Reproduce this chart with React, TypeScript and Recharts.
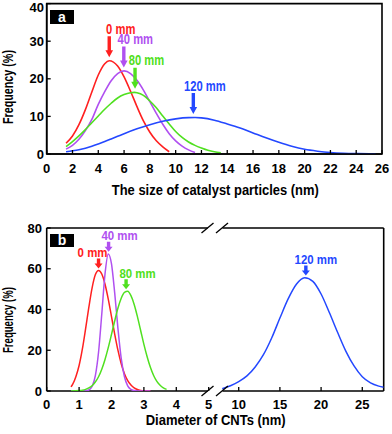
import React from 'react';
import { LineChart, Line, XAxis, YAxis, ReferenceArea, ReferenceLine, ReferenceDot } from 'recharts';

// ---------- Panel a: size of catalyst particles (nm) vs frequency (%) ----------
const catalyst0mm: [number, number][] = [
  [1.5, 2.85], [2.0, 4.8], [2.5, 7.8], [3.0, 11.8], [3.5, 16.5], [4.0, 21.0], [4.5, 24.0], [4.85, 24.8],
  [5.5, 23.4], [6.0, 20.5], [6.5, 16.7], [7.0, 12.6], [7.5, 8.8], [8.0, 5.8], [8.5, 3.5], [9.0, 1.9], [9.5, 0.6],
];
const catalyst40mm: [number, number][] = [
  [1.5, 1.3], [2.0, 2.3], [2.5, 3.9], [3.0, 6.2], [3.5, 9.2], [4.0, 13.2], [4.5, 16.6], [5.0, 19.5], [5.5, 21.4],
  [6.0, 22.1], [6.5, 21.4], [7.0, 19.6], [7.5, 17.0], [8.0, 13.9], [8.5, 10.8], [9.0, 7.9], [9.5, 5.4],
  [10.0, 3.5], [10.5, 2.1], [11.0, 1.1], [11.5, 0.4],
];
const catalyst80mm: [number, number][] = [
  [1.5, 1.95], [2.0, 3.3], [2.5, 4.8], [3.0, 6.5], [3.5, 8.3], [4.0, 10.1], [4.5, 11.9], [5.0, 13.5], [5.5, 14.9],
  [6.0, 15.8], [6.5, 16.3], [6.8, 16.4], [7.0, 16.3], [7.5, 15.6], [8.0, 14.1], [8.5, 12.3], [9.0, 10.1], [9.5, 8.0],
  [10.0, 6.0], [10.5, 4.4], [11.0, 3.2], [11.5, 2.3], [12.0, 1.6], [12.5, 1.0], [13.0, 0.6], [13.5, 0.35],
];
const catalyst120mm: [number, number][] = [
  [1.5, 0.6], [2.0, 0.85], [2.5, 1.15], [3.0, 1.55], [3.5, 2.05], [4.0, 2.65], [4.5, 3.3], [5.0, 4.0], [5.5, 4.7],
  [6.0, 5.4], [7.0, 6.7], [8.0, 7.8], [9.0, 8.7], [10.0, 9.35], [11.0, 9.68], [11.5, 9.7], [12.0, 9.6], [13.0, 9.0],
  [14.0, 8.0], [15.0, 6.9], [16.0, 5.6], [17.0, 4.3], [18.0, 3.1], [19.0, 2.05], [20.0, 1.25], [21.0, 0.75],
  [22.0, 0.4], [23.0, 0.2], [24.0, 0.1], [25.0, 0.05], [25.5, 0.03],
];
const aTicksX = [0, 2, 4, 6, 8, 10, 12, 14, 16, 18, 20, 22, 24, 26];
const aTicksY = [0, 10, 20, 30, 40];
const aPeaks: [number, number][] = [[4.85, 24.8], [5.98, 22.1], [6.85, 16.4], [11.37, 9.7]];

// ---------- Panel b: diameter of CNTs (nm) vs frequency (%) ----------
const cnt0mm: [number, number][] = [
  [0.75, 2.0], [0.8, 3.2], [0.9, 7.0], [1.0, 12.5], [1.1, 20.5], [1.2, 30.5], [1.3, 41.0], [1.4, 50.5], [1.5, 57.0],
  [1.6, 59.2], [1.7, 57.4], [1.8, 52.4], [1.9, 45.1], [2.0, 36.5], [2.1, 27.8], [2.2, 19.9], [2.3, 13.4], [2.4, 8.5],
  [2.5, 5.1], [2.6, 2.9], [2.7, 1.5], [2.8, 0.7], [2.9, 0.3], [3.0, 0.1], [3.2, 0],
];
const cnt40mm: [number, number][] = [
  [0.75, 0], [1.0, 0], [1.2, 0.1], [1.3, 0.5], [1.4, 2.2], [1.5, 7.4], [1.6, 19.0], [1.7, 37.8], [1.8, 57.5],
  [1.9, 67.3], [2.0, 62.4], [2.1, 47.9], [2.2, 30.5], [2.3, 16.0], [2.4, 7.0], [2.5, 2.5], [2.6, 0.8], [2.7, 0.2],
  [2.8, 0], [3.2, 0],
];
const cnt80mm: [number, number][] = [
  [0.75, 0], [1.0, 0.2], [1.1, 0.4], [1.2, 0.8], [1.3, 1.5], [1.4, 2.6], [1.5, 4.4], [1.6, 7.0], [1.7, 10.7],
  [1.8, 15.5], [1.9, 21.3], [2.0, 27.8], [2.1, 34.5], [2.2, 40.7], [2.3, 45.5], [2.4, 48.4], [2.5, 48.9], [2.6, 46.8],
  [2.7, 42.5], [2.8, 36.5], [2.9, 29.7], [3.0, 22.9], [3.1, 16.8], [3.2, 11.6], [3.3, 7.6], [3.4, 4.7], [3.5, 2.8],
  [3.6, 1.5], [3.7, 0.8],
];
const cnt120mm: [number, number][] = [
  [8, 1.1], [9, 2.6], [10, 4.6], [11, 7.4], [12, 11.8], [13, 17.8], [14, 26.0], [15, 35.8], [16, 45.2], [17, 52.4],
  [18, 55.6], [19, 53.8], [20, 47.6], [21, 38.5], [22, 28.8], [23, 19.6], [24, 12.3], [25, 7.0], [26, 4.0], [27, 2.4],
  [27.6, 1.8],
];
const bTicksXLeft = [0, 1, 2, 3, 4, 5];
const bTicksXRight = [10, 15, 20, 25];
const bTicksY = [0, 20, 40, 60, 80];
const bPeaks: [number, number][] = [[1.6, 59.2], [1.91, 67.4], [2.45, 49.0], [18.15, 55.7]];

const seriesNames = ['0 mm', '40 mm', '80 mm', '120 mm'];
const colors = ['#ff2020', '#b050f0', '#50e020', '#2448ff'];
const bLabelDx = [-6, 11, 11.5, 10];

const toPts = (arr: [number, number][]) => arr.map(([x, y]) => ({ x, y }));

const FONT = "'Liberation Sans', Arial, Helvetica, sans-serif";
const AW: Record<string, number> = { '0': 556, '1': 556, '2': 556, '4': 556, '8': 556, ' ': 278, m: 889 };
const boldWidth = (s: string, size: number) => (s.split('').reduce((a, c) => a + (AW[c] ?? 556), 0) / 1000) * size;

const tickStyle = { fontSize: 13, fontWeight: 700, fill: '#000', fontFamily: FONT };
const axisLineStyle = { stroke: '#000', strokeWidth: 1.6 };
const tickLineStyle = { stroke: '#000', strokeWidth: 1.3 };

// y tick label that keeps the top label inside the picture
const YTick = (props: any) => {
  const { x, y, payload } = props;
  const yy = Math.max(y, 7.5);
  return (
    <text x={x} y={yy} dy="0.36em" textAnchor="end" fontSize={13} fontWeight={700} fill="#000" fontFamily={FONT}>
      {payload.value}
    </text>
  );
};

function makeArrow(color: string, label: string, big: boolean, dx: number) {
  return (props: any) => {
    const { cx, cy } = props;
    if (cx == null || cy == null) return <g />;
    const gap = big ? 3.5 : 2;
    const head = big ? 7 : 5;
    const shaft = big ? 14 : 5;
    const hw = big ? 3.8 : 4;
    const sw = 1.7;
    const tip = cy - gap;
    const hb = tip - head;
    const top = hb - shaft;
    const fs = big ? 14 : 13;
    const ratio = big ? 0.8 : 0.88;
    const baseline = big ? top - 2.5 : top - 1.5;
    const d = `M ${cx - sw} ${top} L ${cx + sw} ${top} L ${cx + sw} ${hb} L ${cx + hw} ${hb} L ${cx} ${tip} L ${cx - hw} ${hb} L ${cx - sw} ${hb} Z`;
    return (
      <g>
        <path d={d} fill={color} stroke="none" />
        <text
          x={cx + dx}
          y={baseline}
          textAnchor="middle"
          fill={color}
          fontSize={fs}
          fontWeight={700}
          fontFamily={FONT}
          textLength={boldWidth(label, fs) * ratio}
          lengthAdjust="spacingAndGlyphs"
        >
          {label}
        </text>
      </g>
    );
  };
}

const aSeries = [catalyst0mm, catalyst40mm, catalyst80mm, catalyst120mm];
const bLeftSeries = [cnt0mm, cnt40mm, cnt80mm];

export default function App() {
  return (
    <div style={{ position: 'absolute', left: 0, top: 0, width: 392, height: 434, background: '#fff', overflow: 'hidden' }}>
      {/* Panel a */}
      <div style={{ position: 'absolute', left: 0, top: 0 }}>
        <LineChart width={392} height={217} margin={{ top: 3.6, right: 10, bottom: 33, left: 0 }}>
          <XAxis
            type="number"
            dataKey="x"
            domain={[0, 26]}
            ticks={aTicksX}
            interval={0}
            height={30}
            tickSize={-4}
            tickMargin={14}
            axisLine={axisLineStyle}
            tickLine={tickLineStyle}
            tick={tickStyle}
            allowDataOverflow
          />
          <YAxis
            type="number"
            domain={[0, 40]}
            ticks={aTicksY}
            interval={0}
            width={46.7}
            tickSize={-4}
            tickMargin={6.7}
            axisLine={axisLineStyle}
            tickLine={tickLineStyle}
            tick={<YTick />}
            allowDataOverflow
          />
          <ReferenceArea x1={0} x2={26} y1={0} y2={40} fill="none" fillOpacity={0} stroke="#000" strokeWidth={1.6} />
          {aSeries.map((s, i) => (
            <Line
              key={seriesNames[i]}
              data={toPts(s)}
              dataKey="y"
              type="monotone"
              dot={false}
              stroke={colors[i]}
              strokeWidth={1.6}
              isAnimationActive={false}
            />
          ))}
          {aPeaks.map(([x, y], i) => (
            <ReferenceDot key={'a' + i} x={x} y={y} r={0} ifOverflow="visible" shape={makeArrow(colors[i], seriesNames[i], true, 11.5)} />
          ))}
        </LineChart>
      </div>

      {/* Panel b - left part (0-5 nm) */}
      <div style={{ position: 'absolute', left: 0, top: 217 }}>
        <LineChart width={392} height={217} margin={{ top: 11, right: 183.3, bottom: 13, left: 0 }}>
          <XAxis
            type="number"
            dataKey="x"
            domain={[0, 5]}
            ticks={bTicksXLeft}
            interval={0}
            height={30}
            tickSize={-4}
            tickMargin={12.5}
            axisLine={false}
            tickLine={tickLineStyle}
            tick={tickStyle}
            allowDataOverflow
          />
          <YAxis
            type="number"
            domain={[0, 80]}
            ticks={bTicksY}
            interval={0}
            width={46.7}
            tickSize={-4}
            tickMargin={8.7}
            axisLine={axisLineStyle}
            tickLine={tickLineStyle}
            tick={tickStyle}
            allowDataOverflow
          />
          <ReferenceLine segment={[{ x: 0, y: 0 }, { x: 4.97, y: 0 }]} stroke="#000" strokeWidth={1.6} ifOverflow="visible" />
          <ReferenceLine segment={[{ x: 0, y: 80 }, { x: 4.97, y: 80 }]} stroke="#000" strokeWidth={1.6} ifOverflow="visible" />
          {bLeftSeries.map((s, i) => (
            <Line
              key={seriesNames[i]}
              data={toPts(s)}
              dataKey="y"
              type="monotone"
              dot={false}
              stroke={colors[i]}
              strokeWidth={1.5}
              isAnimationActive={false}
            />
          ))}
          {bPeaks.slice(0, 3).map(([x, y], i) => (
            <ReferenceDot key={'b' + i} x={x} y={y} r={0} ifOverflow="visible" shape={makeArrow(colors[i], seriesNames[i], false, bLabelDx[i])} />
          ))}
        </LineChart>
      </div>

      {/* Panel b - right part (after axis break) */}
      <div style={{ position: 'absolute', left: 0, top: 217 }}>
        <LineChart width={392} height={217} margin={{ top: 11, right: 8.3, bottom: 13, left: 221 }}>
          <XAxis
            type="number"
            dataKey="x"
            domain={[7.85, 27.6]}
            ticks={bTicksXRight}
            interval={0}
            height={30}
            tickSize={-4}
            tickMargin={12.5}
            axisLine={false}
            tickLine={tickLineStyle}
            tick={tickStyle}
            allowDataOverflow
          />
          <YAxis type="number" domain={[0, 80]} hide allowDataOverflow />
          <ReferenceLine segment={[{ x: 8.03, y: 0 }, { x: 27.6, y: 0 }]} stroke="#000" strokeWidth={1.6} ifOverflow="visible" />
          <ReferenceLine segment={[{ x: 8.03, y: 80 }, { x: 27.6, y: 80 }]} stroke="#000" strokeWidth={1.6} ifOverflow="visible" />
          <ReferenceLine segment={[{ x: 27.6, y: 0 }, { x: 27.6, y: 80 }]} stroke="#000" strokeWidth={1.6} ifOverflow="visible" />
          <Line
            data={toPts(cnt120mm)}
            dataKey="y"
            type="monotone"
            dot={false}
            stroke={colors[3]}
            strokeWidth={1.5}
            isAnimationActive={false}
          />
          <ReferenceDot x={bPeaks[3][0]} y={bPeaks[3][1]} r={0} ifOverflow="visible" shape={makeArrow(colors[3], seriesNames[3], false, bLabelDx[3])} />
        </LineChart>
      </div>

      {/* Titles, panel badges and axis-break marks */}
      <svg width={392} height={434} style={{ position: 'absolute', left: 0, top: 0, pointerEvents: 'none' }}>
        <rect x={50} y={10} width={24} height={14} fill="#000" />
        <text x={62} y={21.5} textAnchor="middle" fill="#fff" fontSize={14} fontWeight={700} fontFamily={FONT}>a</text>
        <rect x={50} y={234} width={24} height={13} fill="#000" />
        <text x={62} y={245} textAnchor="middle" fill="#fff" fontSize={14} fontWeight={700} fontFamily={FONT}>b</text>

        <text x={215.3} y={195} textAnchor="middle" fontSize={15} fontWeight={700} fontFamily={FONT} textLength={207} lengthAdjust="spacingAndGlyphs">
          The size of catalyst particles (nm)
        </text>
        <text x={215.7} y={424.5} textAnchor="middle" fontSize={15} fontWeight={700} fontFamily={FONT} textLength={140} lengthAdjust="spacingAndGlyphs">
          Diameter of CNTs (nm)
        </text>
        <text transform="translate(12.5,87) rotate(-90)" x={0} y={0} textAnchor="middle" fontSize={14} fontWeight={700} fontFamily={FONT} textLength={74} lengthAdjust="spacingAndGlyphs">
          Frequency (%)
        </text>
        <text transform="translate(12.5,320) rotate(-90)" x={0} y={0} textAnchor="middle" fontSize={14} fontWeight={700} fontFamily={FONT} textLength={66} lengthAdjust="spacingAndGlyphs">
          Frequency (%)
        </text>

        <g stroke="#000" strokeWidth={1.3}>
          <line x1={201.5} y1={233} x2={213.5} y2={223} />
          <line x1={216} y1={233} x2={228} y2={223} />
          <line x1={201.5} y1={396} x2={213.5} y2={386} />
          <line x1={216} y1={396} x2={228} y2={386} />
        </g>
      </svg>
    </div>
  );
}
